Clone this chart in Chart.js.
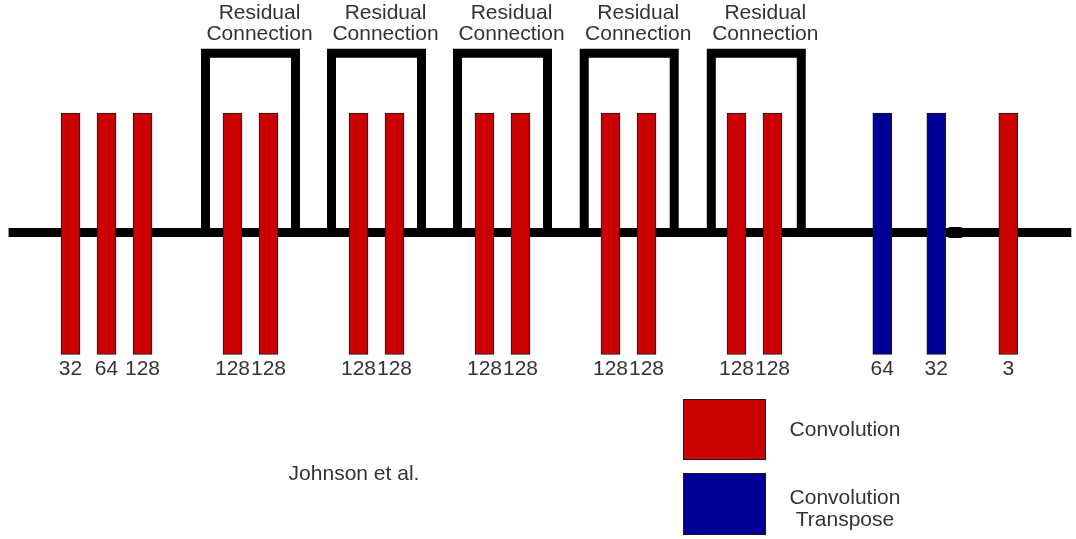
<!DOCTYPE html>
<html>
<head>
<meta charset="utf-8">
<script src="https://cdn.jsdelivr.net/npm/chart.js@4"></script>
<style>
  html, body { margin: 0; padding: 0; background: #fff; }
  #wrap { width: 1076px; height: 539px; }
</style>
</head>
<body>
<div id="wrap"><canvas id="net" width="1076" height="539"></canvas></div>
<script>
// Layers of the network (Johnson et al.), x = position along the pipeline
const layerPos = [0, 1, 2, 4.5, 5.5, 8, 9, 11.5, 12.5, 15, 16, 18.5, 19.5, 22.55, 24.05, 26.05];
const layerChannels = ['32', '64', '128', '128', '128', '128', '128', '128', '128', '128', '128', '128', '128', '64', '32', '3'];
const layerKind = ['conv', 'conv', 'conv', 'conv', 'conv', 'conv', 'conv', 'conv', 'conv', 'conv', 'conv', 'conv', 'conv', 'convT', 'convT', 'conv'];

// residual blocks: start / end of each skip bracket
const residualStart = [3.75, 7.25, 10.75, 14.27, 17.8];
const residualEnd = [6.25, 9.75, 13.25, 16.77, 20.3];
const residualLabel = ['Residual', 'Connection'];

// main data path and the little joint near the end
const pathX = [-1.72, 27.8];
const jointX = [24.45, 24.7];

const kindColors = { conv: '#cc0000', convT: '#000099' };
const legendKinds = ['conv', 'convT'];
const legendText = { conv: ['Convolution'], convT: ['Convolution', 'Transpose'] };
const creditText = 'Johnson et al.';

const BAR_TOP = 1, BAR_BOTTOM = -1.02, BRACKET_TOP = 1.5;
const FONT = '"Liberation Sans", Arial, sans-serif';
const TEXT = '#333';

// datasets
const barDataset = {
    type: 'bar',
    data: layerPos.map(x => ({ x: x, y: [BAR_BOTTOM, BAR_TOP] })),
    backgroundColor: layerKind.map(k => kindColors[k]),
    borderColor: '#1a1a1a',
    borderWidth: 1,
    borderSkipped: false,
    barThickness: 19,
    order: 0
};

const lineStyle = {
    type: 'line',
    borderColor: '#000',
    borderWidth: 9,
    pointRadius: 0,
    fill: false,
    tension: 0,
    borderJoinStyle: 'miter',
    borderCapStyle: 'butt',
    order: 1
};

const pathDataset = Object.assign({}, lineStyle, {
    data: pathX.map(x => ({ x: x, y: 0 }))
});

const jointDataset = Object.assign({}, lineStyle, {
    borderWidth: 11,
    borderCapStyle: 'round',
    data: jointX.map(x => ({ x: x, y: 0 }))
});

const bracketDatasets = residualStart.map((s, i) => Object.assign({}, lineStyle, {
    data: [
        { x: s, y: 0 },
        { x: s, y: BRACKET_TOP },
        { x: residualEnd[i], y: BRACKET_TOP },
        { x: residualEnd[i], y: 0 }
    ]
}));

// texts and legend
const annotations = {
    id: 'annotations',
    afterDatasetsDraw(chart) {
        const ctx = chart.ctx;
        const xs = chart.scales.x, ys = chart.scales.y;
        ctx.save();
        ctx.fillStyle = TEXT;
        ctx.textAlign = 'center';
        ctx.textBaseline = 'middle';

        // channel counts under the bars
        ctx.font = '21px ' + FONT;
        const labelY = ys.getPixelForValue(BAR_BOTTOM) + 15;
        layerPos.forEach((x, i) => {
            ctx.fillText(layerChannels[i], xs.getPixelForValue(x), labelY);
        });

        // residual captions
        ctx.font = '21px ' + FONT;
        residualStart.forEach((s, i) => {
            const cx = (xs.getPixelForValue(s) + xs.getPixelForValue(residualEnd[i])) / 2 + 9;
            ctx.fillText(residualLabel[0], cx, 13);
            ctx.fillText(residualLabel[1], cx, 34);
        });

        // credit
        ctx.font = '21px ' + FONT;
        ctx.fillText(creditText, 354, 474);

        // legend
        const boxes = [[683, 399, 83, 61], [683, 473, 83, 62]];
        const textMid = [430, 509];
        ctx.font = '21px ' + FONT;
        legendKinds.forEach((k, i) => {
            const b = boxes[i];
            ctx.fillStyle = kindColors[k];
            ctx.fillRect(b[0], b[1], b[2], b[3]);
            ctx.strokeStyle = '#1a1a1a';
            ctx.lineWidth = 1;
            ctx.strokeRect(b[0] + 0.5, b[1] + 0.5, b[2] - 1, b[3] - 1);
            ctx.fillStyle = TEXT;
            const lines = legendText[k];
            lines.forEach((t, j) => {
                ctx.fillText(t, 845, textMid[i] + (j - (lines.length - 1) / 2) * 22);
            });
        });
        ctx.restore();
    }
};

new Chart(document.getElementById('net'), {
    type: 'bar',
    data: { datasets: [barDataset, pathDataset, jointDataset].concat(bracketDatasets) },
    options: {
        responsive: false,
        animation: false,
        events: [],
        layout: { padding: 0 },
        plugins: {
            legend: { display: false },
            tooltip: { enabled: false }
        },
        scales: {
            x: { type: 'linear', min: -70.5 / 36, max: 1005.5 / 36, display: false, offset: false },
            y: { type: 'linear', min: -306.5 / 119.5, max: 232.5 / 119.5, display: false }
        }
    },
    plugins: [annotations]
});
</script>
</body>
</html>
